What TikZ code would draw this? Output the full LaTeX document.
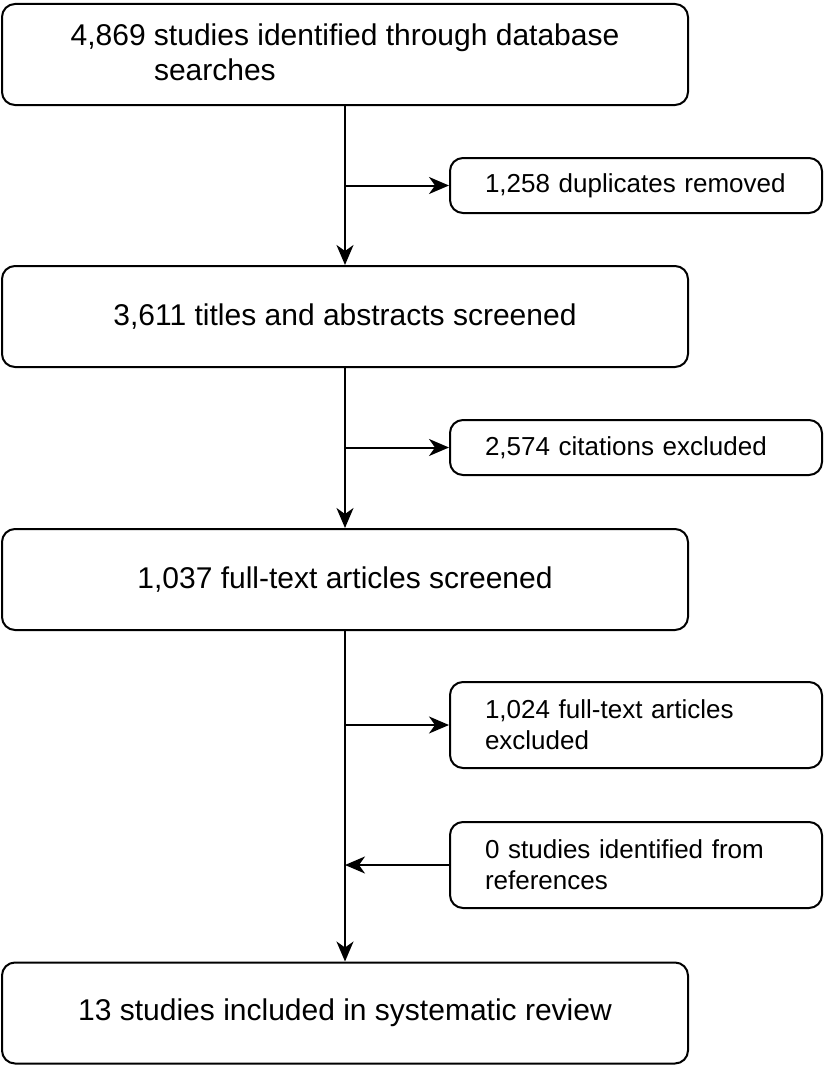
\documentclass[tikz,border=0pt]{standalone}
\usepackage{fontspec}
\setmainfont{Liberation Sans}
\usetikzlibrary{arrows.meta}

\begin{document}
\begin{tikzpicture}[x=1pt, y=-1pt,
    mainbox/.style={draw, line width=2pt, rounded corners=13pt, minimum width=686pt,
      minimum height=101pt, inner sep=0pt, align=left, font=\fontsize{30}{35}\selectfont},
    sidebox/.style={draw, line width=2pt, rounded corners=13pt, minimum width=372pt,
      inner sep=0pt, text width=302pt, align=left, font=\fontsize{26}{31}\selectfont},
    flow/.style={line width=2pt, -{Stealth[length=20pt, width=17pt, inset=6pt]}}]
    %\draw[style=help lines,very thin] (0, 0) grid[step=50pt] (825, 1065);
    \useasboundingbox (0, 0) rectangle (825, 1065);

    \node[mainbox] (found) at (345, 54.5)
      {4,869 studies identified through database\\\phantom{4,869\ }searches};
    \node[mainbox] (screened) at (345, 316.5) {3,611 titles and abstracts screened};
    \node[mainbox] (fulltext) at (345, 579.5) {1,037 full-text articles screened};
    \node[mainbox] (included) at (345, 1013) {13 studies included in systematic review};

    \node[sidebox, minimum height=55pt] (dupes) at (636, 185.5) {1,258 duplicates removed};
    \node[sidebox, minimum height=55pt] (citex) at (636, 447.5) {2,574 citations excluded};
    \node[sidebox, minimum height=86pt] (artex) at (636, 725)
      {1,024 full-text articles\\excluded};
    \node[sidebox, minimum height=86pt] (refs) at (636, 865)
      {0 studies identified from\\references};

    \draw[flow] (found.south) -- (screened.north);
    \draw[flow] (screened.south) -- (fulltext.north);
    \draw[flow] (fulltext.south) -- (included.north);

    \draw[flow] (found.south |- dupes.west) -- (dupes.west);
    \draw[flow] (screened.south |- citex.west) -- (citex.west);
    \draw[flow] (fulltext.south |- artex.west) -- (artex.west);
    \draw[flow] (refs.west) -- (refs.west -| fulltext.south);
  \end{tikzpicture}
\end{document}
